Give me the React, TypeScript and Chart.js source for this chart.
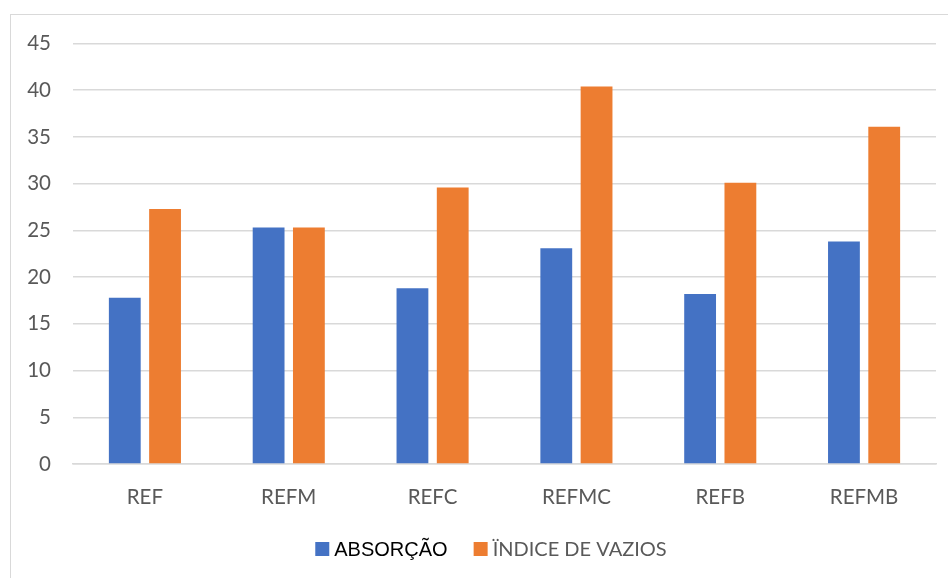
import React, { useEffect, useRef } from "react";
import { Chart, registerables } from "chart.js";

Chart.register(...registerables);

const categories = ["REF", "REFM", "REFC", "REFMC", "REFB", "REFMB"];
const absorcao = [17.8, 25.3, 18.8, 23.1, 18.2, 23.8];
const indiceVazios = [27.3, 25.3, 29.6, 40.4, 30.1, 36.1];
const seriesLabels = ["ABSORÇÃO", "ÏNDICE DE VAZIOS"];

const seriesColors = ["#4472C4", "#ED7D31"];
const legendFonts = ["20px 'Liberation Sans', Arial, sans-serif", "20px Lato, sans-serif"];
const legendTextColors = ["#000000", "#595959"];

const legendPlugin = {
  id: "customLegend",
  afterDraw(chart: any) {
    const ctx = chart.ctx as CanvasRenderingContext2D;
    const box = 14;
    const gapBT = 5;
    const gapItems = 26;
    ctx.save();
    const items = chart.data.datasets.map((ds: any, i: number) => {
      ctx.font = legendFonts[i];
      return { text: ds.label, color: ds.backgroundColor, font: legendFonts[i], tc: legendTextColors[i], w: ctx.measureText(ds.label).width };
    });
    const total = items.reduce((s: number, it: any) => s + box + gapBT + it.w, 0) + gapItems * (items.length - 1);
    let x = chart.width / 2 - total / 2;
    const y = chart.chartArea.bottom + 85;
    items.forEach((it: any) => {
      ctx.fillStyle = it.color;
      ctx.fillRect(x, y - box / 2, box, box);
      x += box + gapBT;
      ctx.font = it.font;
      ctx.fillStyle = it.tc;
      ctx.textBaseline = "middle";
      ctx.textAlign = "left";
      ctx.fillText(it.text, x, y + 1);
      x += it.w + gapItems;
    });
    ctx.restore();
  },
};

export default function App() {
  const ref = useRef<HTMLCanvasElement>(null);
  useEffect(() => {
    if (!ref.current) return;
    const chart = new Chart(ref.current, {
      type: "bar",
      data: {
        labels: categories,
        datasets: [
          { label: seriesLabels[0], data: absorcao, backgroundColor: seriesColors[0] },
          { label: seriesLabels[1], data: indiceVazios, backgroundColor: seriesColors[1] },
        ],
      },
      options: {
        responsive: false,
        animation: false,
        devicePixelRatio: 1,
        layout: { padding: { top: 28.5, right: 35, bottom: 71, left: 0 } },
        datasets: { bar: { categoryPercentage: 0.56, barPercentage: 0.79 } } as any,
        plugins: { legend: { display: false }, tooltip: { enabled: false } },
        scales: {
          x: {
            grid: { display: false, drawTicks: false },
            border: { display: true, color: "#d9d9d9", width: 1.5 },
            ticks: { color: "#595959", font: { family: "Lato", size: 20.5 }, padding: 21 },
            afterFit: (s: any) => { s.height = 60; },
          },
          y: {
            min: 0,
            max: 45,
            ticks: { stepSize: 5, color: "#595959", font: { family: "Lato", size: 20.5, lineHeight: 0.5 }, padding: 22 },
            grid: { color: "#d9d9d9", lineWidth: 1.5, drawTicks: false },
            border: { display: false },
            afterFit: (s: any) => { s.width = 62; },
          },
        },
      },
      plugins: [legendPlugin],
    });
    return () => chart.destroy();
  }, []);
  return (
    <div style={{ position: "fixed", left: 10, top: 14, width: 960, height: 580, border: "1px solid #d9d9d9", background: "#fff" }}>
      <canvas ref={ref} width={960} height={580} style={{ display: "block" }} />
    </div>
  );
}
